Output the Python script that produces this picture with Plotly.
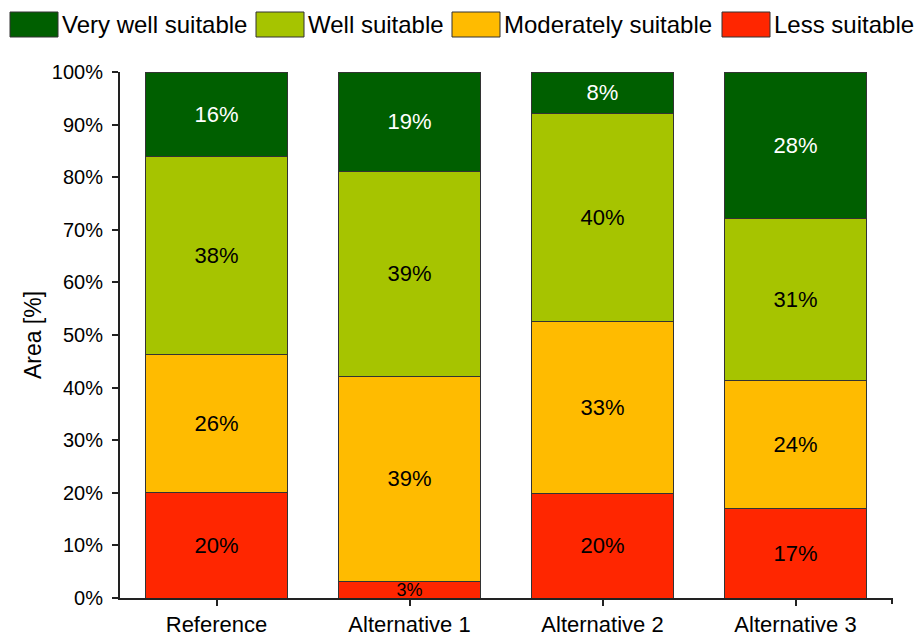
import plotly.graph_objects as go

categories = ["Reference", "Alternative 1", "Alternative 2", "Alternative 3"]
series_names = ["Less suitable", "Moderately suitable", "Well suitable", "Very well suitable"]
less_suitable = [20.0, 3.2, 19.9, 17.1]
moderately_suitable = [26.2, 39.0, 32.6, 24.2]
well_suitable = [37.8, 38.8, 39.6, 30.9]
very_well_suitable = [16.0, 19.0, 7.9, 27.8]
y_ticks = [0, 10, 20, 30, 40, 50, 60, 70, 80, 90, 100]
y_tick_labels = [f"{v}%" for v in y_ticks]

colors = {
    "Less suitable": "#FF2600",
    "Moderately suitable": "#FFBB00",
    "Well suitable": "#A6C400",
    "Very well suitable": "#005F00",
}
text_colors = {
    "Less suitable": "black",
    "Moderately suitable": "black",
    "Well suitable": "black",
    "Very well suitable": "white",
}
values = {
    "Less suitable": less_suitable,
    "Moderately suitable": moderately_suitable,
    "Well suitable": well_suitable,
    "Very well suitable": very_well_suitable,
}

FONT = "Liberation Sans, Arial, sans-serif"
W, H = 919, 636
L, R, T, B = 120, 27, 72, 38
PW, PH = W - L - R, H - T - B

fig = go.Figure()
for name in series_names:
    vals = values[name]
    sizes = [18 if v < 5 else 22 for v in vals]
    fig.add_trace(go.Bar(
        x=categories, y=vals, name=name,
        marker=dict(color=colors[name], line=dict(color="#333333", width=1)),
        texttemplate="%{y:.0f}%", textposition="inside", insidetextanchor="middle",
        constraintext="none",
        textfont=dict(family=FONT, size=sizes, color=text_colors[name]),
        width=0.74, showlegend=False, hoverinfo="skip",
    ))

def px_x(p):
    return (p - L) / PW

def px_y(p):
    return (H - B - p) / PH

# custom legend (large swatches like the original)
legend_order = ["Very well suitable", "Well suitable", "Moderately suitable", "Less suitable"]
swatch_x = [10, 256, 452, 722]
shapes = []
annotations = []
for name, sx in zip(legend_order, swatch_x):
    shapes.append(dict(type="rect", xref="paper", yref="paper",
                       x0=px_x(sx), x1=px_x(sx + 48), y0=px_y(37), y1=px_y(12),
                       fillcolor=colors[name], line=dict(color="#333333", width=1)))
    annotations.append(dict(text=name, xref="paper", yref="paper",
                            x=px_x(sx + 50), y=px_y(25), xanchor="left", yanchor="middle",
                            showarrow=False, font=dict(family=FONT, size=24, color="black")))

# end tick at right of x axis
shapes.append(dict(type="line", xref="paper", yref="paper", x0=1, x1=1,
                   ysizemode="pixel", yanchor=0, y0=0, y1=-6,
                   line=dict(color="#222222", width=2)))

fig.update_layout(
    barmode="stack",
    width=W, height=H,
    margin=dict(l=L, r=R, t=T, b=B, pad=0, autoexpand=False),
    paper_bgcolor="white", plot_bgcolor="white",
    font=dict(family=FONT, color="black"),
    shapes=shapes, annotations=annotations,
    xaxis=dict(showline=True, linecolor="#222222", linewidth=2, automargin=False,
               ticks="outside", ticklen=6, tickwidth=2, tickcolor="#222222",
               tickfont=dict(family=FONT, size=22, color="black"),
               showgrid=False, zeroline=False),
    yaxis=dict(range=[0, 100], tickmode="array", tickvals=y_ticks, ticktext=y_tick_labels,
               automargin=False, ticklabelstandoff=5,
               showline=True, linecolor="#222222", linewidth=2,
               ticks="outside", ticklen=6, tickwidth=2, tickcolor="#222222",
               tickfont=dict(family=FONT, size=20, color="black"),
               showgrid=False, zeroline=False,
               title=dict(text="Area [%]", font=dict(family=FONT, size=23, color="black"), standoff=4)),
)

fig.write_html("out.html")
